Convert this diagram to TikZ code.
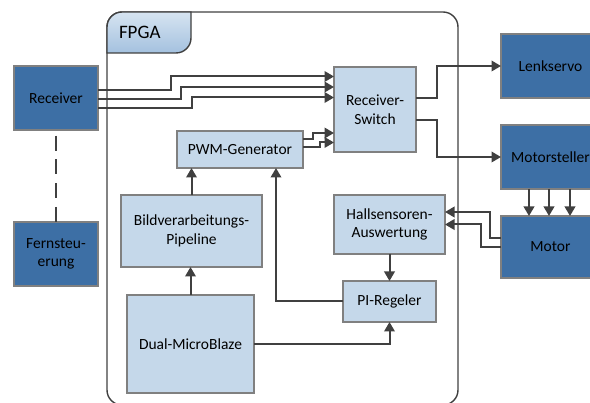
\documentclass[tikz,border=0pt]{standalone}
\usepackage{fontspec}
\setmainfont{Carlito}
\usetikzlibrary{arrows.meta,calc}
\definecolor{hwblue}{RGB}{61,111,165}
\definecolor{fpgablue}{RGB}{197,216,234}
\definecolor{tabtop}{RGB}{214,228,241}
\definecolor{tabbottom}{RGB}{164,193,223}
\definecolor{linegray}{RGB}{64,64,64}
\definecolor{edgegray}{RGB}{128,128,128}

\begin{document}
\begin{tikzpicture}
    [x=1pt, y=-1pt,
    every node/.style={
        font=\fontsize{15.5}{18.5}\selectfont,
        text=black, align=center,
        inner sep=0pt, outer sep=0pt},
    hwblock/.style={draw=edgegray, line width=1.2pt, fill=hwblue},
    fpgablock/.style={draw=edgegray, line width=1.2pt, fill=fpgablue},
    conn/.style={draw=linegray, line width=2pt, -{Triangle[length=9.5pt,width=10.5pt]}},
    link/.style={draw=linegray, line width=2pt, dash pattern=on 15pt off 8.7pt, dash phase=18pt}
    ]
    \useasboundingbox (0,0) rectangle (590,403);
    \clip (0,0) rectangle (590,403);
    \node (fpga) [draw=linegray, line width=1.4pt, rounded corners=15pt,
        minimum width=351pt, minimum height=393pt] at (282.5,208.5) {};
    \path [draw=linegray, line width=1.4pt, top color=tabtop, bottom color=tabbottom]
        ($(fpga.north west)+(0,41)$) [rounded corners=15pt] -- (fpga.north west)
        [sharp corners] -- ++(84,0) [rounded corners=15pt] -- ++(0,41) [sharp corners] -- cycle;
    \node (fpgalabel) [anchor=west, font=\fontsize{19}{22}\selectfont] at (119,32) {FPGA};

    \node (recv) [hwblock, minimum width=84pt, minimum height=64pt] at (56,98) {Receiver};
    \node (fern) [hwblock, minimum width=84pt, minimum height=64pt] at (56,254) {Fernsteu-\\erung};
    \node (rswitch) [fpgablock, minimum width=82pt, minimum height=85pt] at (375,109.5) {Receiver-\\Switch};
    \node (pwm) [fpgablock, minimum width=126pt, minimum height=37pt] at (240,149.5) {PWM-Generator};
    \node (bild) [fpgablock, minimum width=141pt, minimum height=72pt] at (191.5,231) {Bildverarbeitungs-\\Pipeline};
    \node (mblaze) [fpgablock, minimum width=127pt, minimum height=98pt] at (190.5,344) {Dual-MicroBlaze};
    \node (hall) [fpgablock, minimum width=111pt, minimum height=59pt] at (389.5,224.5) {Hallsensoren-\\Auswertung};
    \node (pireg) [fpgablock, minimum width=93pt, minimum height=41pt] at (389.5,301.5) {PI-Regeler};
    \node (lenk) [hwblock, minimum width=99pt, minimum height=64pt] at (550.5,66) {Lenkservo};
    \node (mstell) [hwblock, minimum width=99pt, minimum height=64pt] at (550.5,157) {Motorsteller};
    \node (motor) [hwblock, minimum width=99pt, minimum height=62pt] at (550.5,247) {Motor};

    \draw [link] (recv.south) -- (fern.north);
    \draw [conn] ($(recv.east)+(0,-8)$) -- ++(73,0) |- ($(rswitch.west)+(0,-33)$);
    \draw [conn] ($(recv.east)+(0,1)$) -- ++(83,0) |- ($(rswitch.west)+(0,-22.5)$);
    \draw [conn] ($(recv.east)+(0,10.5)$) -- ++(94,0) |- ($(rswitch.west)+(0,-12)$);
    \draw [conn] ($(pwm.east)+(0,-10.5)$) -- ++(10,0) |- ($(rswitch.west)+(0,23.5)$);
    \draw [conn] ($(pwm.east)+(0,-2.5)$) -- ++(17,0) |- ($(rswitch.west)+(0,33)$);
    \draw [conn] ($(rswitch.east)+(0,-11.5)$) -- ++(21,0) |- (lenk.west);
    \draw [conn] ($(rswitch.east)+(0,10.5)$) -- ++(21,0) |- (mstell.west);
    \foreach \dx in {-21.5,-1.5,19.5}
        \draw [conn] ($(mstell.south)+(\dx,0)$) -- ($(motor.north)+(\dx,0)$);
    \draw [conn] ($(motor.west)+(0,-9)$) -- ++(-11,0) |- ($(hall.east)+(0,-12.5)$);
    \draw [conn] (motor.west) -- ++(-20,0) |- (hall.east);
    \draw [conn] (hall.south) -- (pireg.north);
    \draw [conn] (mblaze.east) -| (pireg.south);
    \draw [conn] (pireg.west) -| ($(pwm.south)+(36,0)$);
    \draw [conn] (bild.north) -- (bild.north |- pwm.south);
    \draw [conn] (mblaze.north) -- (mblaze.north |- bild.south);
\end{tikzpicture}
\end{document}
